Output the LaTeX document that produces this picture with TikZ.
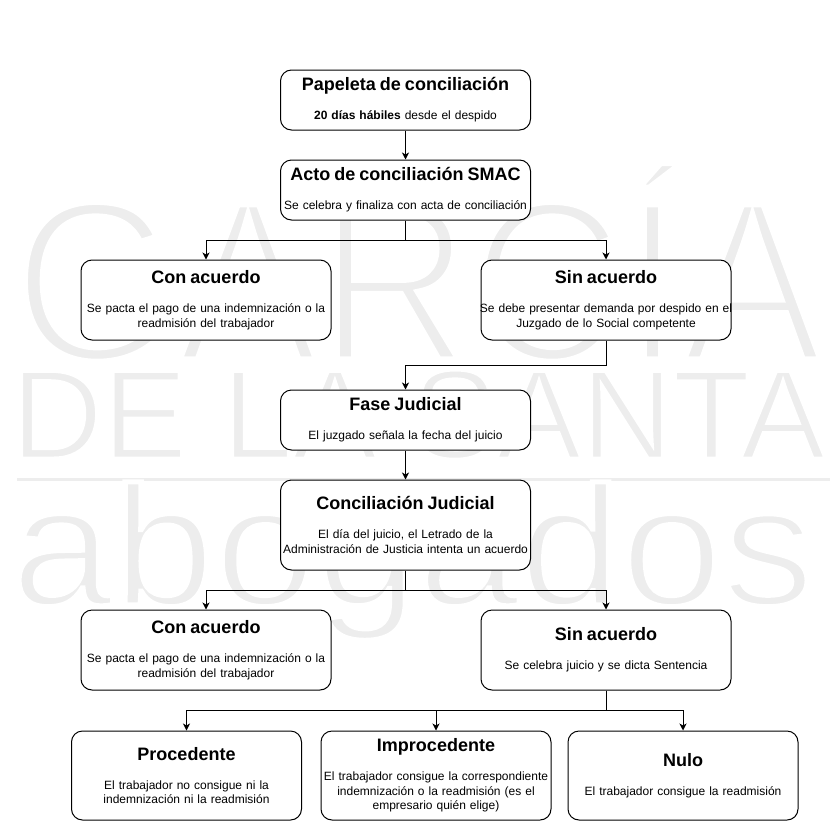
\documentclass[tikz,border=0pt]{standalone}
\usepackage{fontspec}
\setmainfont{Liberation Sans}
\usetikzlibrary{arrows.meta}
\definecolor{wmgray}{HTML}{EDEDED}
\tikzset{
  box/.style={draw=black, fill=white, rounded corners=11pt, line width=1pt,
    align=center, inner xsep=0pt, inner ysep=0pt,
    font=\fontsize{12}{14.5}\selectfont},
  conn/.style={draw=black, line width=1pt, rounded corners=0pt,
    -{Stealth[length=7pt,width=7pt,inset=2pt]}},
  wmtext/.style={text=wmgray, inner sep=0pt, anchor=base west}
}
\newcommand{\boxtitle}[1]{{\fontsize{18}{20}\selectfont\bfseries #1\par}\vspace{14.5pt}}
\newcommand{\thinwm}[2]{\special{pdf:literal direct 2 Tr 1 1 1 RG #1 w}#2\special{pdf:literal direct 0 Tr}}
\begin{document}
\begin{tikzpicture}[x=1pt,y=-1pt]
\useasboundingbox (0,0) rectangle (830,830);
\fill[white] (0,0) rectangle (830,830);
% watermark
\begin{scope}
\node[wmtext, font=\fontsize{230}{230}\selectfont] (wm1) at (13,361) {\scalebox{0.918}[1]{\thinwm{9}{GARCÍA}}};
\end{scope}
\begin{scope}
\node[wmtext, font=\fontsize{126}{126}\selectfont] (wm2) at (11,458) {\scalebox{1.005}[1]{\thinwm{3}{DE LA SANTA}}};
\end{scope}
\begin{scope}
\draw[wmgray, line width=3pt] (17,479) -- (830,479);
\node[wmtext, font=\fontsize{170}{170}\selectfont] (wm3) at (11,605) {\scalebox{1.075}[1]{\thinwm{5}{abogados}}};
\end{scope}
% boxes
\node[box, text width=250pt, minimum height=60pt] (pap) at (405.5,100)
  {\boxtitle{Papeleta de conciliación}\textbf{20 días hábiles} desde el despido};
\node[box, text width=250pt, minimum height=60pt] (acto) at (405.5,190)
  {\boxtitle{Acto de conciliación SMAC}Se celebra y finaliza con acta de conciliación};
\node[box, text width=250pt, minimum height=80pt] (con1) at (206,300)
  {\boxtitle{Con acuerdo}Se pacta el pago de una indemnización o la\\readmisión del trabajador};
\node[box, text width=250pt, minimum height=80pt] (sin1) at (606,300)
  {\boxtitle{Sin acuerdo}\makebox[250pt][c]{Se debe presentar demanda por despido en el}\\Juzgado de lo Social competente};
\node[box, text width=250pt, minimum height=60pt] (fase) at (405.5,420)
  {\boxtitle{Fase Judicial}El juzgado señala la fecha del juicio};
\node[box, text width=250pt, minimum height=90pt] (conj) at (405.5,525)
  {\boxtitle{Conciliación Judicial}El día del juicio, el Letrado de la\\Administración de Justicia intenta un acuerdo};
\node[box, text width=250pt, minimum height=80pt] (con2) at (206,650)
  {\boxtitle{Con acuerdo}Se pacta el pago de una indemnización o la\\readmisión del trabajador};
\node[box, text width=250pt, minimum height=80pt] (sin2) at (606,650)
  {\boxtitle{Sin acuerdo}Se celebra juicio y se dicta Sentencia};
\node[box, text width=230pt, minimum height=89pt] (proc) at (186.5,775.5)
  {\boxtitle{Procedente}El trabajador no consigue ni la\\indemnización ni la readmisión};
\node[box, text width=230pt, minimum height=89pt] (impr) at (436,775.5)
  {\boxtitle{Improcedente}\makebox[230pt][c]{El trabajador consigue la correspondiente}\\indemnización o la readmisión (es el\\empresario quién elige)};
\node[box, text width=230pt, minimum height=89pt] (nulo) at (683,775.5)
  {\boxtitle{Nulo}El trabajador consigue la readmisión};
% connectors
\draw[conn] (pap) -- (acto);
\draw[conn] (acto.south) -- ++(0,20) -| (con1.north);
\draw[conn] (acto.south) -- ++(0,20) -| (sin1.north);
\draw[conn] (sin1.south) -- ++(0,25) -| (fase.north);
\draw[conn] (fase) -- (conj);
\draw[conn] (conj.south) -- ++(0,20) -| (con2.north);
\draw[conn] (conj.south) -- ++(0,20) -| (sin2.north);
\draw[conn] (sin2.south) -- ++(0,20) -| (proc.north);
\draw[conn] (sin2.south) -- ++(0,20) -| (impr.north);
\draw[conn] (sin2.south) -- ++(0,20) -| (nulo.north);
\end{tikzpicture}
\end{document}
